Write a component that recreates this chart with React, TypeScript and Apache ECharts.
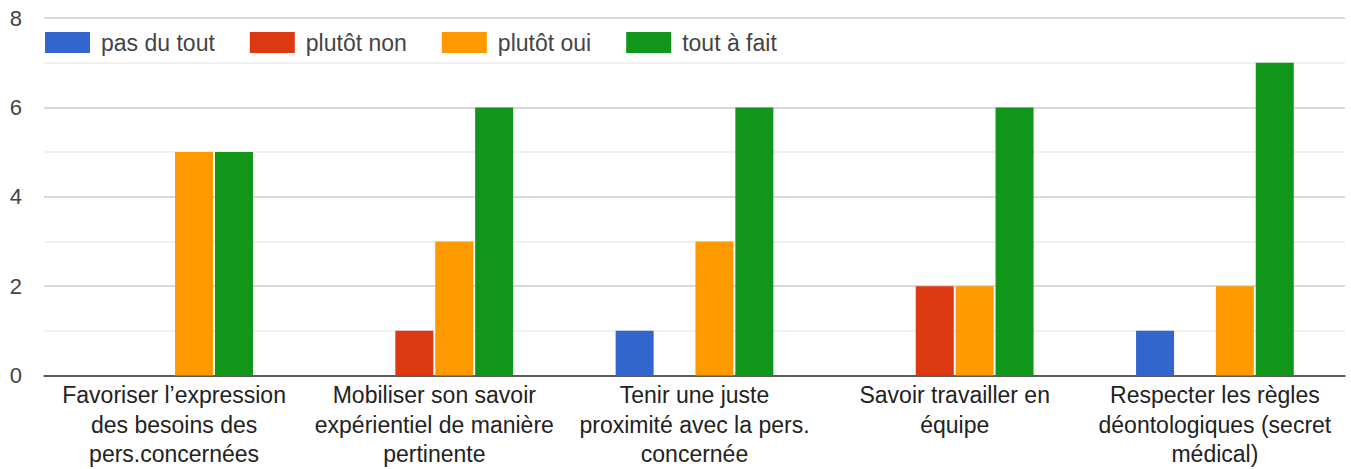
import React, { useEffect, useRef } from "react";
import * as echarts from "echarts";

const categories = [
  "Favoriser l’expression\ndes besoins des\npers.concernées",
  "Mobiliser son savoir\nexpérientiel de manière\npertinente",
  "Tenir une juste\nproximité avec la pers.\nconcernée",
  "Savoir travailler en\néquipe",
  "Respecter les règles\ndéontologiques (secret\nmédical)",
];
const seriesNames = ["pas du tout", "plutôt non", "plutôt oui", "tout à fait"];
const pasDuTout = [0, 0, 1, 0, 1];
const plutotNon = [0, 1, 0, 2, 0];
const plutotOui = [5, 3, 3, 2, 2];
const toutAFait = [5, 6, 6, 6, 7];
const colors = ["#3366cc", "#dc3912", "#ff9900", "#109618"];

export default function App() {
  const ref = useRef<HTMLDivElement>(null);
  useEffect(() => {
    if (!ref.current) return;
    const chart = echarts.init(ref.current, undefined, { renderer: "svg" });
    const values = [pasDuTout, plutotNon, plutotOui, toutAFait];
    chart.setOption({
      animation: false,
      color: colors,
      textStyle: { fontFamily: "'Liberation Sans', Arial, sans-serif" },
      legend: {
        left: 45,
        top: 31,
        padding: 0,
        itemWidth: 45,
        itemHeight: 21,
        itemGap: 35,
        icon: "rect",
        textStyle: { fontSize: 23, color: "#444", padding: [0, 0, 0, 6] },
        data: seriesNames,
      },
      grid: { left: 44, right: 6, top: 18, bottom: 93, containLabel: false },
      xAxis: {
        type: "category",
        data: categories,
        axisTick: { show: false },
        axisLine: { lineStyle: { color: "#333", width: 1.5 } },
        axisLabel: {
          interval: 0,
          fontSize: 23,
          color: "#222",
          lineHeight: 29.5,
          margin: 5,
        },
      },
      yAxis: {
        type: "value",
        min: 0,
        max: 8,
        interval: 2,
        axisLabel: { fontSize: 22, color: "#444", margin: 22 },
        splitLine: { lineStyle: { color: "#cccccc", width: 1.5 } },
        minorTick: { show: false, splitNumber: 2 },
        minorSplitLine: { show: true, lineStyle: { color: "#ebebeb", width: 1.5 } },
        axisLine: { show: false },
        axisTick: { show: false },
      },
      series: seriesNames.map((name, i) => ({
        name,
        type: "bar",
        data: values[i],
        barWidth: 38,
        barGap: "5%",
        itemStyle: { color: colors[i] },
      })),
    });
    return () => chart.dispose();
  }, []);
  return (
    <div
      ref={ref}
      style={{ position: "fixed", left: 0, top: 0, width: 1351, height: 469, background: "#fff" }}
    />
  );
}
